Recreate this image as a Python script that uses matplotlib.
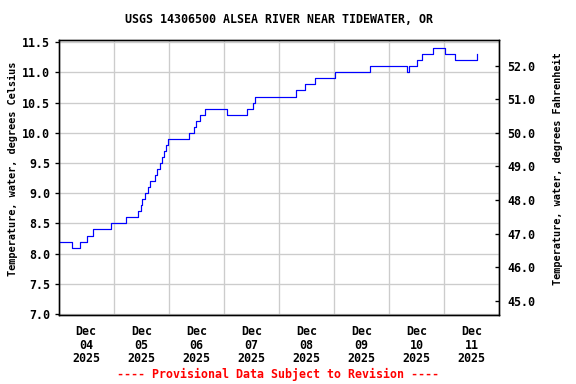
#!/usr/bin/env python3
"""
plot.py - USGS 14306500 Alsea River near Tidewater, OR
water temperature (provisional), Dec 04 - Dec 11 2025.
"""

import pandas as pd
import matplotlib
matplotlib.use("Agg")
import matplotlib.pyplot as plt
import matplotlib.dates as mdates
from matplotlib.ticker import FixedLocator, FormatStrFormatter

# ---------------------------------------------------------------------------
# Data (step changes, degrees C)
# ---------------------------------------------------------------------------
change_times = [
    "2025-12-04 00:00", "2025-12-04 06:00", "2025-12-04 09:30", "2025-12-04 12:30",
    "2025-12-04 15:00", "2025-12-04 22:45", "2025-12-05 05:15", "2025-12-05 10:30",
    "2025-12-05 11:45", "2025-12-05 12:30", "2025-12-05 13:30", "2025-12-05 14:45",
    "2025-12-05 16:00", "2025-12-05 18:00", "2025-12-05 18:45", "2025-12-05 20:00",
    "2025-12-05 21:00", "2025-12-05 21:45", "2025-12-05 22:45", "2025-12-05 23:45",
    "2025-12-06 08:45", "2025-12-06 10:45", "2025-12-06 12:00", "2025-12-06 13:30",
    "2025-12-06 15:45", "2025-12-07 01:15", "2025-12-07 10:00", "2025-12-07 12:30",
    "2025-12-07 13:45", "2025-12-08 07:15", "2025-12-08 11:30", "2025-12-08 15:30",
    "2025-12-09 00:15", "2025-12-09 15:45", "2025-12-10 08:00", "2025-12-10 08:30",
    "2025-12-10 12:15", "2025-12-10 14:15", "2025-12-10 19:00", "2025-12-11 00:15",
    "2025-12-11 04:30", "2025-12-11 14:15", "2025-12-11 14:30",
]
temps_c = [
    8.2, 8.1, 8.2, 8.3,
    8.4, 8.5, 8.6, 8.7,
    8.8, 8.9, 9.0, 9.1,
    9.2, 9.3, 9.4, 9.5,
    9.6, 9.7, 9.8, 9.9,
    10.0, 10.1, 10.2, 10.3,
    10.4, 10.3, 10.4, 10.5,
    10.6, 10.7, 10.8, 10.9,
    11.0, 11.1, 11.0, 11.1,
    11.2, 11.3, 11.4, 11.3,
    11.2, 11.3, 11.3,
]

day_ticks  = pd.date_range("2025-12-04", "2025-12-12", freq="D")
label_days = pd.date_range("2025-12-04 12:00", "2025-12-11 12:00", freq="D")
c_ticks    = [7.0, 7.5, 8.0, 8.5, 9.0, 9.5, 10.0, 10.5, 11.0, 11.5]
f_ticks    = [45.0, 46.0, 47.0, 48.0, 49.0, 50.0, 51.0, 52.0]

TITLE  = "USGS 14306500 ALSEA RIVER NEAR TIDEWATER, OR"
FOOTER = "---- Provisional Data Subject to Revision ----"
YLAB_C = "Temperature, water, degrees Celsius"
YLAB_F = "Temperature, water, degrees Fahrenheit"

FONT = {"family": "DejaVu Sans Mono", "weight": "bold", "size": 8.7}
plt.rc("font", **FONT)

times = pd.to_datetime(change_times)

fig = plt.figure(figsize=(6, 4), dpi=96)
ax = fig.add_axes([0.1019, 0.1805, 0.7649, 0.7161])

ax.plot(times, temps_c, color="#0000ff", linewidth=0.9, drawstyle="steps-post", zorder=3)

ylo, yhi = 6.99, 11.54
ax.set_ylim(ylo, yhi)
ax.set_xlim(day_ticks[0], day_ticks[-1])

# grid at day boundaries and every half degree
ax.xaxis.set_major_locator(FixedLocator(mdates.date2num(day_ticks)))
ax.xaxis.set_major_formatter(plt.NullFormatter())
ax.xaxis.set_minor_locator(FixedLocator(mdates.date2num(label_days)))
ax.set_xticklabels([d.strftime("%b\n%d\n%Y") for d in label_days], minor=True)
ax.tick_params(axis="x", which="major", length=0)
ax.tick_params(axis="x", which="minor", length=0, pad=8)
for lbl in ax.get_xticklabels(minor=True):
    lbl.set_linespacing(1.05)

ax.set_yticks(c_ticks)
ax.yaxis.set_major_formatter(FormatStrFormatter("%.1f"))
ax.tick_params(axis="y", direction="out", length=3, width=1)
ax.grid(True, which="major", color="#cccccc", linewidth=1.0)
ax.set_axisbelow(True)

# Fahrenheit on the right
ax2 = ax.twinx()
ax2.set_ylim(ylo * 9 / 5 + 32, yhi * 9 / 5 + 32)
ax2.set_yticks(f_ticks)
ax2.yaxis.set_major_formatter(FormatStrFormatter("%.1f"))
ax2.tick_params(axis="y", direction="in", length=3, width=1, pad=6)

for a in (ax, ax2):
    for sp in a.spines.values():
        sp.set_linewidth(1.0)
        sp.set_color("black")

fig.text(0.0226, 0.561, YLAB_C, rotation=90, ha="center", va="center", fontsize=7.7)
fig.text(0.969, 0.561, YLAB_F, rotation=90, ha="center", va="center", fontsize=7.7)
fig.text(0.484, 0.948, TITLE, ha="center", va="center")
fig.text(0.482, 0.024, FOOTER, ha="center", va="center", color="red")

fig.savefig("out.png", dpi=96)
